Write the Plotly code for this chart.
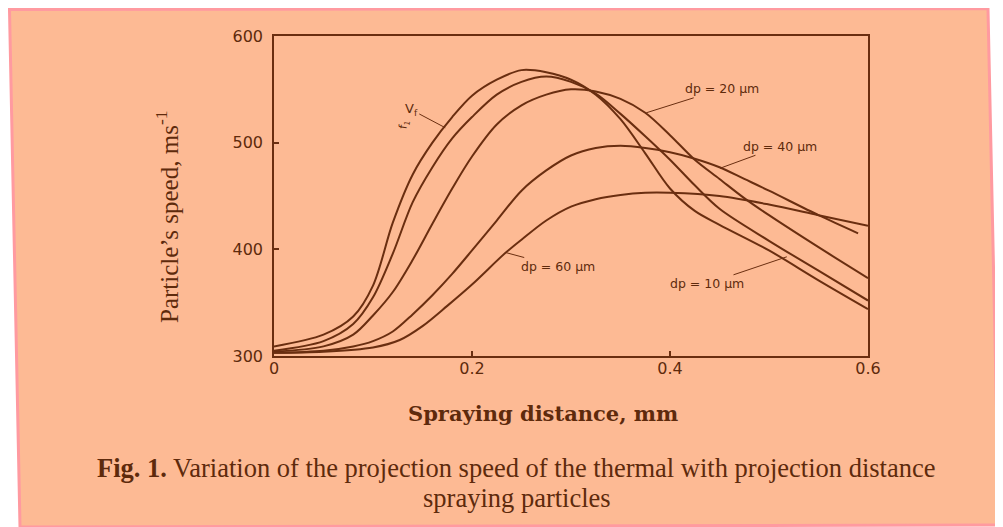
import plotly.graph_objects as go

# ---------------- data ----------------
vf_x = [0, 0.05, 0.08, 0.1, 0.12, 0.14, 0.16, 0.18, 0.2, 0.225, 0.25, 0.275, 0.3, 0.325, 0.35, 0.375, 0.4, 0.425, 0.45, 0.5, 0.55, 0.6]
vf_y = [309, 320, 337, 366, 425, 470, 500, 524, 544, 559, 568, 566, 559, 545, 522, 490, 457, 436, 423, 399, 371, 344]

d10_x = [0, 0.05, 0.08, 0.1, 0.12, 0.14, 0.16, 0.18, 0.2, 0.225, 0.25, 0.275, 0.3, 0.325, 0.35, 0.375, 0.4, 0.425, 0.45, 0.5, 0.55, 0.6]
d10_y = [305, 314, 330, 355, 396, 444, 477, 504, 524, 545, 557, 562, 557, 546, 527, 506, 484, 460, 438, 408, 380, 352]

d20_x = [0, 0.05, 0.08, 0.1, 0.12, 0.14, 0.16, 0.18, 0.2, 0.225, 0.25, 0.275, 0.3, 0.325, 0.35, 0.375, 0.4, 0.425, 0.45, 0.475, 0.5, 0.55, 0.6]
d20_y = [304, 309, 320, 338, 360, 390, 424, 457, 487, 517, 535, 545, 550, 548, 541, 528, 507, 484, 466, 448, 432, 402, 373]

d40_x = [0, 0.05, 0.08, 0.1, 0.12, 0.14, 0.16, 0.18, 0.2, 0.225, 0.25, 0.275, 0.3, 0.325, 0.35, 0.375, 0.4, 0.425, 0.45, 0.475, 0.5, 0.55, 0.59]
d40_y = [303, 305, 309, 314, 323, 339, 357, 377, 399, 427, 455, 474, 488, 495, 497, 495, 491, 485, 477, 466, 455, 432, 415]

d60_x = [0, 0.05, 0.1, 0.127, 0.15, 0.175, 0.2, 0.233, 0.25, 0.275, 0.3, 0.325, 0.35, 0.375, 0.4, 0.45, 0.5, 0.55, 0.6]
d60_y = [303, 304, 308, 315, 328, 347, 367, 396, 409, 427, 440, 447, 451, 453, 453, 450, 442, 432, 422]

series_names = ["Vf", "dp = 10 µm", "dp = 20 µm", "dp = 40 µm", "dp = 60 µm"]
x_ticks = [0, 0.2, 0.4, 0.6]
x_tick_text = ["0", "0.2", "0.4", "0.6"]
y_ticks = [300, 400, 500, 600]

# ---------------- style ----------------
OFF = 8                      # page body margin
W, H = 1003 - OFF, 527 - OFF
PL, PR, PT, PB = 274, 868, 36, 356   # plot frame in page pixels
ML, MT = PL - OFF, PT - OFF
MR, MB = W - (PR - OFF), H - (PB - OFF)
INK = "#5e2a0c"
LINE = "#6a2e10"
PEACH = "#fdba94"
PINK = "#ff9aa0"


def px(xp):
    return (xp - PL) / (PR - PL)


def py(yp):
    return (PB - yp) / (PB - PT)


fig = go.Figure()
for xs, ys, nm in zip([vf_x, d10_x, d20_x, d40_x, d60_x],
                      [vf_y, d10_y, d20_y, d40_y, d60_y], series_names):
    fig.add_trace(go.Scatter(x=xs, y=ys, name=nm, mode="lines",
                             line=dict(color=LINE, width=2, shape="spline", smoothing=0.9),
                             showlegend=False, hoverinfo="x+y+name"))

# background panel (slightly skewed scanned page)
corners = [(9.5, 9.5), (988, 8.5), (999, 525), (20, 527)]
path = "M " + " L ".join(f"{px(a):.4f},{py(b):.4f}" for a, b in corners) + " Z"
fig.add_shape(type="path", path=path, xref="paper", yref="paper",
              fillcolor=PEACH, line=dict(color=PINK, width=3), layer="below")

lab_font = dict(family="DejaVu Sans", size=12.5, color=INK)
# curve labels with leader lines
fig.add_annotation(x=0.173, y=514, text="V<sub>f</sub>", ax=-34, ay=-18,
                   showarrow=True, arrowhead=0, arrowwidth=1, arrowcolor=LINE,
                   font=dict(family="DejaVu Sans", size=13, color=INK))
fig.add_annotation(x=px(404), y=py(125), xref="paper", yref="paper", text="f<sub>1</sub>",
                   xanchor="center", yanchor="middle",
                   showarrow=False, textangle=-80, font=dict(family="DejaVu Sans", size=11, color=INK))
fig.add_annotation(x=0.376, y=528, text="dp = 20 µm", ax=76, ay=-24,
                   showarrow=True, arrowhead=0, arrowwidth=1, arrowcolor=LINE, font=lab_font)
fig.add_annotation(x=0.4505, y=476, text="dp = 40 µm", ax=60, ay=-22,
                   showarrow=True, arrowhead=0, arrowwidth=1, arrowcolor=LINE, font=lab_font)
fig.add_annotation(x=0.234, y=397, text="dp = 60 µm", ax=52, ay=14,
                   showarrow=True, arrowhead=0, arrowwidth=1, arrowcolor=LINE, font=lab_font)
fig.add_annotation(x=0.518, y=393, text="dp = 10 µm", ax=-80, ay=27,
                   showarrow=True, arrowhead=0, arrowwidth=1, arrowcolor=LINE, font=lab_font)

# axis titles and caption
fig.add_annotation(x=px(167), y=py(217), xref="paper", yref="paper",
                   xanchor="center", yanchor="middle",
                   text="Particle’s speed, ms<sup>-1</sup>", textangle=-90, showarrow=False,
                   font=dict(family="Liberation Serif", size=25, color=INK))
fig.add_annotation(x=px(543), y=py(413), xref="paper", yref="paper",
                   xanchor="center", yanchor="middle",
                   text="<b>Spraying distance, mm</b>", showarrow=False,
                   font=dict(family="DejaVu Serif", size=21, color=INK))
fig.add_annotation(x=px(516), y=py(468), xref="paper", yref="paper",
                   xanchor="center", yanchor="middle",
                   text="<b>Fig. 1.</b> Variation of the projection speed of the thermal with projection distance",
                   showarrow=False, font=dict(family="Liberation Serif", size=26.5, color=INK))
fig.add_annotation(x=px(517), y=py(498), xref="paper", yref="paper",
                   xanchor="center", yanchor="middle",
                   text="spraying particles",
                   showarrow=False, font=dict(family="Liberation Serif", size=26.5, color=INK))

axis_common = dict(showgrid=False, zeroline=False, showline=True, mirror=True,
                   linecolor=LINE, linewidth=1.5, ticks="inside", ticklen=5,
                   tickcolor=LINE, tickwidth=1.5,
                   tickfont=dict(family="DejaVu Sans", size=16, color=INK))
fig.update_xaxes(range=[0, 0.6], tickvals=x_ticks, ticktext=x_tick_text, ticklabelstandoff=-3, **axis_common)
fig.update_yaxes(range=[300, 600], tickvals=y_ticks, ticklabelstandoff=6, **axis_common)

fig.update_layout(width=W, height=H, margin=dict(l=ML, r=MR, t=MT, b=MB),
                  paper_bgcolor="white", plot_bgcolor="rgba(0,0,0,0)", showlegend=False)

fig.write_html("out.html")
